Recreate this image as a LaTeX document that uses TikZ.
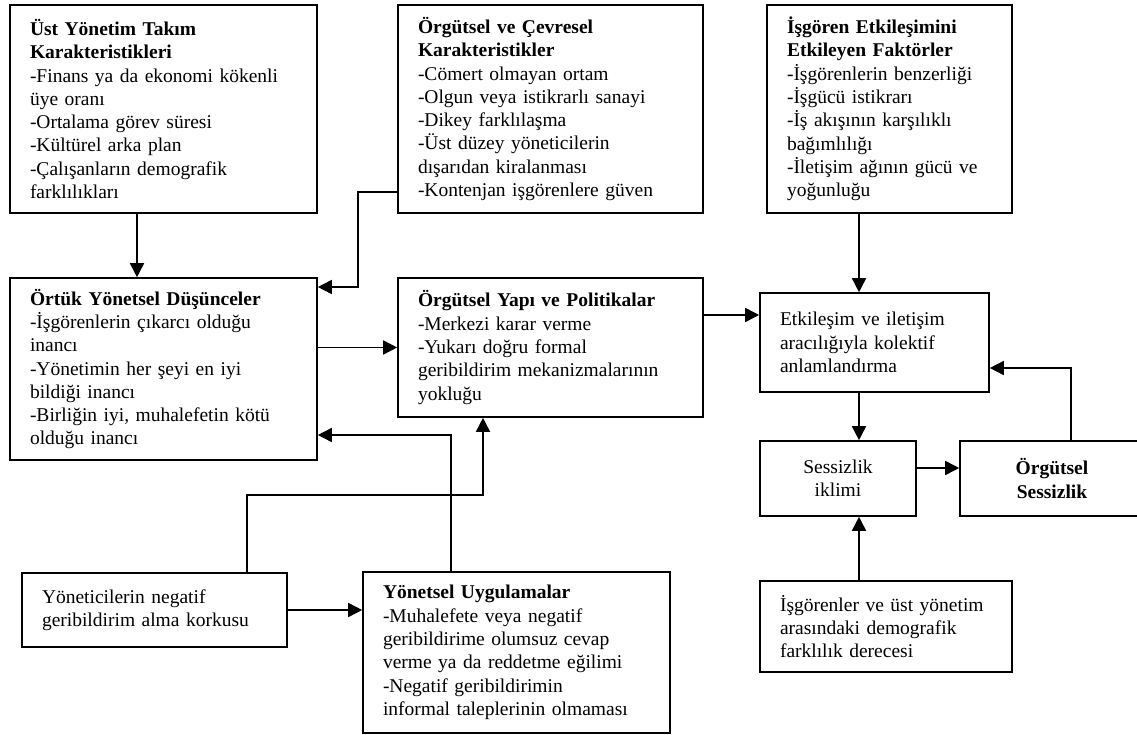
\documentclass[tikz,border=0pt]{standalone}
\usepackage{fontspec}
\setmainfont{Liberation Serif}
\usepackage{tikz}
\usetikzlibrary{positioning}
\usetikzlibrary{arrows.meta}
\tikzset{>={Triangle[width=14pt,length=14pt]}}
\tikzset{box/.style={draw, line width=1.6pt, inner xsep=20pt, inner ysep=6pt, align=left, font=\fontsize{19.5}{23.3}\selectfont}}

\begin{document}
\begin{tikzpicture}[x=1pt, y=-1pt, line width=1.6pt]
\useasboundingbox (0,0) rectangle (1137,735);
\node (A) [box, minimum width=307pt, minimum height=208pt, text width=267pt] at (163.5,109) {\textbf{Üst Yönetim Takım}\\\textbf{Karakteristikleri}\\-Finans ya da ekonomi kökenli\\üye oranı\\-Ortalama görev süresi\\-Kültürel arka plan\\-Çalışanların demografik\\farklılıkları};
\node (B) [box, minimum width=305pt, minimum height=208pt, text width=265pt] at (550.5,109) {\textbf{Örgütsel ve Çevresel}\\\textbf{Karakteristikler}\\-Cömert olmayan ortam\\-Olgun veya istikrarlı sanayi\\-Dikey farklılaşma\\-Üst düzey yöneticilerin\\dışarıdan kiralanması\\-Kontenjan işgörenlere güven};
\node (C) [box, minimum width=245pt, minimum height=208pt, text width=205pt] at (889.5,109) {\textbf{İşgören Etkileşimini}\\\textbf{Etkileyen Faktörler}\\-İşgörenlerin benzerliği\\-İşgücü istikrarı\\-İş akışının karşılıklı\\bağımlılığı\\-İletişim ağının gücü ve\\yoğunluğu};
\node (D) [box, minimum width=307pt, minimum height=182pt, text width=267pt] at (163.5,369) {\textbf{Örtük Yönetsel Düşünceler}\\-İşgörenlerin çıkarcı olduğu\\inancı\\-Yönetimin her şeyi en iyi\\bildiği inancı\\-Birliğin iyi, muhalefetin kötü\\olduğu inancı};
\node (E) [box, minimum width=305pt, minimum height=139pt, text width=265pt] at (550.5,347.5) {\textbf{Örgütsel Yapı ve Politikalar}\\-Merkezi karar verme\\-Yukarı doğru formal\\geribildirim mekanizmalarının\\yokluğu};
\node (F) [box, minimum width=229pt, minimum height=99pt, text width=189pt] at (874.5,342.5) {Etkileşim ve iletişim\\aracılığıyla kolektif\\anlamlandırma};
\node (G) [box, align=center, minimum width=156pt, minimum height=75pt, text width=116pt] at (838,478.5) {Sessizlik\\iklimi};
\node (H) [box, align=center, minimum width=184pt, minimum height=75pt, text width=144pt] at (1052,478.5) {\textbf{Örgütsel}\\\textbf{Sessizlik}};
\node (I) [box, minimum width=252pt, minimum height=91pt, text width=212pt] at (886,626.5) {İşgörenler ve üst yönetim\\arasındaki demografik\\farklılık derecesi};
\node (J) [box, minimum width=265pt, minimum height=74pt, text width=225pt] at (154.5,610) {Yöneticilerin negatif\\geribildirim alma korkusu};
\node (K) [box, minimum width=307pt, minimum height=161pt, text width=267pt] at (516.5,652.5) {\textbf{Yönetsel Uygulamalar}\\-Muhalefete veya negatif\\geribildirime olumsuz cevap\\verme ya da reddetme eğilimi\\-Negatif geribildirimin\\informal taleplerinin olmaması};
% top row into the middle row
\path [draw, ->] ([xshift=-26.5pt]A.south) -- ([xshift=-26.5pt]A.south |- D.north);
\path [draw, ->] ([yshift=-83pt]B.west) -- ++(-39,0) |- ([yshift=82pt]D.east);
\path [draw, ->] ([xshift=-30.5pt]C.south) -- ([xshift=-30.5pt]C.south |- F.north);
% middle row
\path [draw, ->] (D.east |- E.west) -- (E.west);
\path [draw, ->] ([yshift=32.5pt]E.east) -- ([yshift=32.5pt]E.east -| F.west);
\path [draw, ->] ([xshift=-15.5pt]F.south) -- ([xshift=-15.5pt]F.south |- G.north);
\path [draw, ->] ([yshift=10.5pt]G.east) -- ([yshift=10.5pt]G.east -| H.west);
\path [draw, ->] ([xshift=19pt]H.north) |- ([yshift=-25.5pt]F.east);
\path [draw, ->] ([xshift=-27pt]I.north) -- ([xshift=-27pt]I.north |- G.south);
% bottom row
\path [draw, ->] (J.east) -- (J.east -| K.west);
\path [draw, ->] ([xshift=92.5pt]J.north) -- ++(0,-77) -| ([xshift=-67.5pt]E.south);
\path [draw, ->] ([xshift=-65.5pt]K.north) |- ([yshift=-66pt]D.east);
\end{tikzpicture}
\end{document}
